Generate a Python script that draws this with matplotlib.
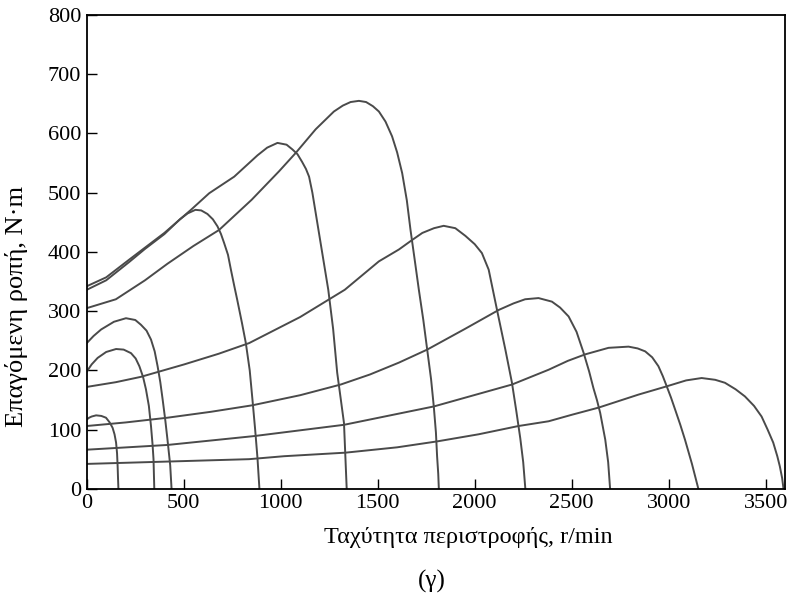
import matplotlib
matplotlib.use("Agg")
import matplotlib.pyplot as plt

plt.rcParams['font.family'] = ['Liberation Serif', 'DejaVu Serif']

#--------------------------Data (speed r/min, torque N.m)
n_160 = [0, 12, 25, 48, 75, 99, 118, 133, 143, 151, 156, 159, 161, 163]
t_160 = [117, 120, 122, 124, 123, 120, 112, 103, 92, 78, 60, 38, 18, 0]

n_350 = [0, 25, 56, 100, 151, 190, 228, 252, 271, 290, 305, 320, 331, 339, 344, 348]
t_350 = [198, 210, 221, 231, 236, 235, 229, 220, 207, 189, 168, 140, 106, 75, 50, 0]

n_440 = [0, 35, 74, 140, 202, 250, 279, 308, 331, 350, 365, 379, 391, 405, 416, 430, 437]
t_440 = [246, 258, 269, 282, 288, 285, 277, 267, 252, 232, 207, 180, 151, 115, 83, 40, 0]

n_900 = [0, 100, 219, 300, 400, 480, 520, 560, 590, 622, 650, 674, 692, 708, 728, 743,
         760, 775, 800, 820, 840, 854, 868, 880, 890]
t_900 = [336, 352, 383, 405, 430, 455, 465, 471, 470, 464, 455, 443, 430, 415, 395, 370,
         343, 320, 280, 246, 200, 151, 100, 52, 0]

n_1350 = [0, 100, 219, 400, 537, 631, 760, 830, 880, 930, 983, 1030, 1060, 1086, 1110,
          1130, 1146, 1163, 1180, 1214, 1245, 1270, 1291, 1310, 1326, 1340]
t_1350 = [342, 357, 387, 432, 471, 499, 527, 548, 563, 576, 584, 581, 573, 565, 552,
          540, 527, 500, 466, 398, 336, 270, 196, 150, 111, 0]

n_1800 = [0, 150, 300, 416, 550, 682, 850, 991, 1077, 1180, 1274, 1320, 1360, 1403, 1440,
          1475, 1506, 1540, 1574, 1600, 1626, 1650, 1669, 1690, 1712, 1735, 1755, 1775,
          1789, 1800, 1806, 1812, 1815]
t_1800 = [305, 320, 352, 380, 410, 437, 488, 536, 567, 607, 637, 647, 653, 655, 653,
          646, 637, 620, 595, 568, 533, 487, 437, 388, 336, 285, 235, 185,
          139, 95, 55, 25, 0]

n_2250 = [0, 150, 279, 502, 680, 837, 1100, 1330, 1506, 1609, 1677, 1730, 1790, 1840,
          1900, 1952, 2000, 2037, 2072, 2115, 2158, 2192, 2215, 2235, 2250, 2261]
t_2250 = [172, 180, 189, 210, 228, 246, 290, 336, 384, 404, 420, 432, 440, 444,
          440, 427, 413, 398, 370, 302, 235, 179, 130, 85, 45, 0]

n_2700 = [0, 200, 416, 640, 854, 1100, 1309, 1460, 1609, 1755, 1950, 2124, 2200, 2260,
          2329, 2398, 2440, 2484, 2525, 2561, 2590, 2612, 2630, 2647, 2673, 2688, 2698]
t_2700 = [106, 112, 120, 130, 141, 158, 176, 193, 213, 235, 270, 302, 313, 320,
          322, 316, 306, 291, 265, 230, 198, 170, 150, 128, 83, 45, 0]

n_3150 = [0, 416, 863, 1326, 1789, 2192, 2381, 2480, 2570, 2690, 2793, 2840, 2879, 2915,
          2947, 2970, 2990, 3012, 3033, 3060, 3084, 3120, 3153]
t_3150 = [66, 74, 89, 108, 139, 176, 201, 216, 227, 238, 240, 237, 232, 222,
          207, 190, 173, 154, 134, 108, 83, 42, 0]

n_3600 = [0, 420, 837, 1017, 1334, 1600, 1806, 2020, 2226, 2381, 2501, 2638, 2844, 2990,
          3090, 3170, 3240, 3290, 3345, 3393, 3440, 3479, 3510, 3539, 3560, 3573, 3585, 3592]
t_3600 = [42, 46, 50, 55, 61, 70, 80, 92, 106, 114, 125, 137, 159, 173,
          183, 187, 184, 179, 168, 156, 140, 122, 100, 78, 55, 38, 18, 0]

curves = [(n_160, t_160), (n_350, t_350), (n_440, t_440), (n_900, t_900),
          (n_1350, t_1350), (n_1800, t_1800), (n_2250, t_2250),
          (n_2700, t_2700), (n_3150, t_3150), (n_3600, t_3600)]

x_ticks = [0, 500, 1000, 1500, 2000, 2500, 3000, 3500]
y_ticks = [0, 100, 200, 300, 400, 500, 600, 700, 800]

#--------------------------Plot
fig = plt.figure(figsize=(7.89, 5.99), dpi=100)
ax = fig.add_axes([0.110, 0.184, 0.885, 0.791])

for n, t in curves:
    ax.plot(n, t, color='#4a4a4a', lw=1.4)

ax.set_xlim(0, 3600)
ax.set_ylim(0, 800)
ax.set_xticks(x_ticks)
ax.set_yticks(y_ticks)
ax.tick_params(direction='in', length=7, width=1, labelsize=16, pad=4)
for s in ax.spines.values():
    s.set_linewidth(1.3)

# axis titles placed by hand, as in the scanned figure
fig.text(0.593, 0.1035, 'Ταχύτητα περιστροφής, r/min', fontsize=17.5,
         ha='center', va='center')
fig.text(0.0215, 0.489, 'Επαγόμενη ροπή, N·m', fontsize=19, rotation=90,
         ha='center', va='center')
fig.text(0.5475, 0.030, '(γ)', fontsize=18, ha='center', va='center')

plt.savefig('out.png', dpi=100)
plt.close()
